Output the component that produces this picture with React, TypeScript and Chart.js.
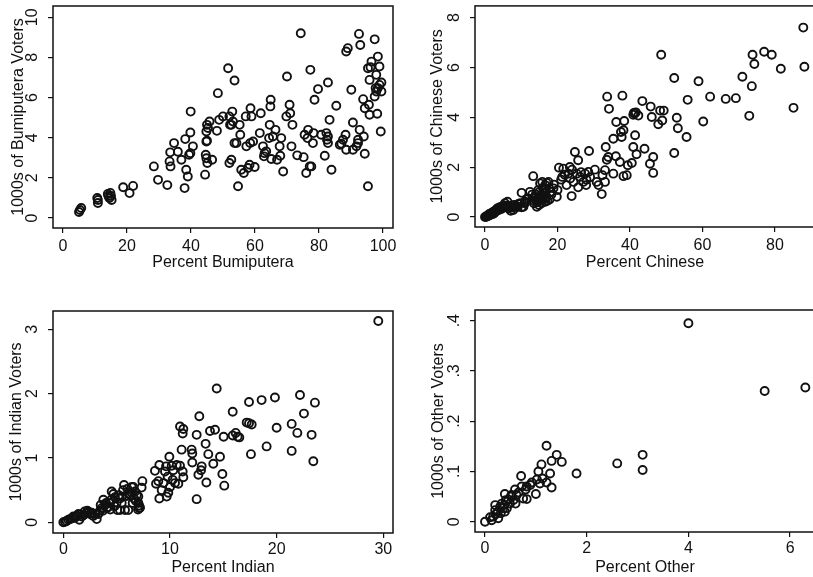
import React, { useEffect, useRef } from "react";
import { Chart, registerables } from "chart.js";
Chart.register(...registerables);

const FONT = "'Liberation Sans', Arial, Helvetica, sans-serif";
const INK = "#111111";

// ---------------- Data ----------------
const bumiPct = [5.0,5.3,5.7,10.9,10.9,10.7,14.0,14.5,14.2,15.2,14.8,15.0,18.8,20.8,21.9,28.4,29.7,32.6,33.3,33.6,33.5,34.7,35.9,37.0,38.2,38.0,38.5,39.0,39.4,39.8,39.9,39.8,40.6,44.4,44.6,44.8,44.8,45.0,44.8,45.3,45.0,45.8,45.1,46.6,48.1,48.4,48.8,50.0,51.6,52.0,52.6,52.0,52.6,52.2,52.9,53.1,53.6,53.6,54.2,54.7,55.2,55.4,55.7,56.5,57.1,57.3,57.8,58.3,58.5,58.6,58.9,59.9,59.4,61.5,61.8,62.5,62.8,63.0,63.5,64.4,64.6,65.1,64.8,64.9,65.6,66.4,66.9,67.7,67.9,68.2,68.8,70.0,69.8,70.8,71.0,71.4,71.7,73.2,74.3,75.2,75.5,76.0,76.4,76.6,77.1,77.6,77.3,78.1,78.3,78.6,79.7,80.7,81.8,82.5,82.8,82.8,82.3,82.8,83.3,83.9,85.4,86.5,87.0,87.5,88.3,88.5,88.5,89.0,90.1,90.6,90.6,91.7,92.2,92.2,92.5,92.9,92.7,94.0,93.8,94.3,94.3,95.3,95.6,95.8,95.8,95.3,96.4,96.1,97.4,97.4,97.9,97.7,97.9,98.2,98.4,98.4,98.9,98.9,99.5,99.5,99.3];
const bumiVoters = [0.3,0.4,0.5,0.9,0.75,1.0,1.2,1.0,1.1,0.9,1.25,1.1,1.53,1.24,1.6,2.57,1.9,1.64,2.82,2.57,3.27,3.73,3.3,2.9,3.93,1.49,2.4,2.07,3.15,3.23,5.3,4.26,3.57,2.16,3.15,2.98,3.81,3.85,4.31,4.48,4.64,4.81,2.74,2.9,4.34,6.22,4.89,5.06,7.46,2.74,2.9,5.06,4.64,4.64,5.3,4.81,6.85,3.73,3.73,1.58,4.64,4.15,2.4,2.24,5.06,3.57,2.49,2.65,3.73,5.47,5.06,2.54,3.81,4.23,5.22,3.57,3.07,3.23,3.32,3.98,4.64,2.94,5.56,5.89,4.06,4.39,2.9,3.57,3.1,3.98,2.32,7.05,5.06,5.64,5.22,3.57,4.64,3.12,9.2,3.03,4.15,2.24,3.98,4.39,2.57,2.57,7.38,3.73,4.23,5.89,6.42,4.15,3.1,3.9,3.73,4.06,4.23,6.75,4.89,2.4,5.59,3.65,3.7,3.9,4.15,3.4,8.29,8.46,6.39,4.76,3.4,3.57,3.73,3.9,9.17,8.62,4.39,4.06,5.92,3.2,5.47,1.58,5.64,5.14,6.88,7.46,7.79,7.51,8.9,6.05,6.3,6.47,7.13,5.19,8.04,6.47,6.63,7.55,6.75,6.3,4.31];

const chinesePct = [0,0.3,0.55,0.9,1.4,1.7,2.0,2.3,2.8,3.2,3.5,3.9,4.1,4.6,5.1,5.5,6.0,6.4,6.9,7.1,7.8,8.3,8.7,9.2,9.7,10.1,10.6,11.0,11.5,1.0,1.5,2.5,3.0,3.8,4.5,5.0,6.5,7.5,8.0,9.0,0.5,1.2,2.2,5.5,6.2,10.1,12.4,13.3,12.9,13.3,13.8,14.3,14.7,15.2,15.6,16.1,16.6,17.0,14.3,14.9,15.6,16.6,14.7,15.2,15.8,16.6,17.0,17.5,17.7,18.2,18.9,19.8,20.0,13.5,14.0,14.5,15.0,15.5,16.0,16.5,17.2,17.8,18.3,15.0,16.0,13.0,12.0,11.0,20.4,21.6,21.3,22.5,23.0,23.4,23.9,24.4,24.8,25.3,25.7,25.7,26.2,27.1,27.6,27.9,28.5,28.7,22.0,23.5,24.0,26.5,28.0,29.0,21.0,19.0,30.3,30.8,31.3,32.2,32.4,33.1,33.1,33.3,33.6,33.7,34.0,34.2,35.4,35.4,36.1,36.2,37.2,37.5,37.7,37.9,38.2,38.2,38.4,39.1,39.4,40.5,40.9,41.4,40.9,41.3,41.6,41.1,42.3,41.8,43.4,44.0,45.5,45.7,46.0,46.4,46.4,47.8,48.3,49.3,48.6,48.9,52.2,52.2,52.9,53.2,55.6,55.9,58.9,60.2,62.1,66.4,69.2,71.0,72.9,73.6,73.8,74.3,77.0,79.1,81.6,85.1,87.8,88.1];
const chineseVoters = [0,0.01,0.04,0.08,0.08,0.15,0.17,0.21,0.25,0.31,0.35,0.35,0.39,0.41,0.45,0.41,0.44,0.35,0.39,0.25,0.28,0.41,0.44,0.52,0.55,0.39,0.41,0.61,0.71,0.05,0.1,0.15,0.22,0.28,0.32,0.38,0.45,0.38,0.48,0.4,0.02,0.12,0.12,0.55,0.61,0.97,1.01,1.64,0.68,0.75,0.81,0.68,0.75,0.81,0.88,0.81,0.75,0.81,0.41,0.48,0.55,0.61,1.08,1.35,1.41,1.28,1.37,1.41,1.15,1.01,1.15,0.81,1.08,0.55,0.9,0.6,0.65,0.7,0.95,1.0,0.65,0.7,0.9,1.0,1.15,0.9,0.75,0.55,1.98,1.94,1.61,1.28,1.74,2.01,0.84,1.41,2.61,1.74,2.28,1.19,1.61,1.41,1.74,1.28,1.81,2.65,1.7,1.55,1.9,1.8,1.5,1.6,1.5,1.3,1.9,1.41,1.28,0.92,1.68,1.88,1.41,2.81,2.3,4.83,2.41,4.34,1.74,3.14,2.44,3.81,2.21,3.41,3.21,4.87,1.64,3.48,3.85,1.68,2.08,2.17,2.81,3.28,4.1,4.15,4.2,4.18,4.07,2.52,4.65,2.74,2.14,4.43,4.01,2.41,1.77,3.72,4.27,4.27,6.51,3.87,2.57,5.58,3.98,3.56,3.21,4.7,5.45,3.83,4.83,4.74,4.77,5.63,4.06,5.25,6.51,6.14,6.63,6.51,5.95,4.38,7.6,6.03];

const indianPct = [0,0.16,0.31,0.47,0.63,0.78,0.94,1.09,1.25,1.41,1.5,1.72,1.88,2.13,2.25,2.5,2.66,2.97,3.13,3.28,3.44,3.59,3.75,3.91,4.06,4.22,4.38,4.53,4.69,4.84,5.0,5.06,5.31,5.47,5.78,5.69,5.94,6.09,6.41,6.56,6.63,6.72,6.88,7.03,7.03,7.13,7.19,7.34,7.41,6.09,6.41,5.31,1.0,1.6,2.0,2.4,2.8,3.5,4.0,4.4,4.8,5.2,5.6,6.0,6.3,6.8,7.0,7.1,3.7,4.5,5.5,6.5,8.59,8.69,8.91,9.0,9.0,9.22,9.38,9.53,9.63,9.69,9.78,9.84,9.94,10.0,10.16,10.25,10.31,10.47,10.63,10.78,10.94,10.94,11.09,11.19,11.25,11.19,11.25,12.03,12.09,12.09,12.5,12.5,12.66,12.75,12.91,12.97,13.34,13.41,13.59,13.75,14.06,14.22,14.38,14.69,14.91,15.03,15.09,15.88,15.88,16.16,16.34,16.5,17.19,17.41,17.41,17.66,17.59,18.59,19.06,19.84,20.0,21.41,21.41,21.94,22.19,22.56,23.28,23.44,23.59,29.53];
const indianVoters = [0,0.01,0.02,0.04,0.05,0.06,0.09,0.07,0.1,0.13,0.04,0.09,0.11,0.14,0.18,0.13,0.15,0.13,0.05,0.13,0.18,0.22,0.35,0.27,0.22,0.24,0.3,0.48,0.44,0.39,0.31,0.19,0.37,0.3,0.19,0.58,0.41,0.45,0.46,0.55,0.37,0.48,0.42,0.4,0.3,0.22,0.23,0.54,0.64,0.19,0.55,0.19,0.08,0.12,0.17,0.16,0.1,0.27,0.3,0.2,0.25,0.42,0.5,0.52,0.42,0.33,0.2,0.26,0.18,0.35,0.4,0.3,0.8,0.6,0.64,0.89,0.37,0.5,0.61,0.79,0.87,0.4,0.71,0.46,1.02,0.55,0.88,0.66,0.81,0.61,0.89,0.6,1.49,0.88,1.13,1.38,1.45,0.79,0.7,1.13,1.07,0.93,0.36,1.36,0.74,1.65,0.81,0.87,1.22,0.62,1.06,1.42,0.91,1.44,2.08,1.02,0.75,1.33,0.57,1.72,1.35,1.39,1.33,1.32,1.55,1.87,1.54,1.52,1.06,1.9,1.18,1.94,1.47,1.11,1.53,1.39,1.98,1.69,1.36,0.95,1.86,3.13];

const otherPct = [0,0.1,0.13,0.16,0.2,0.2,0.21,0.25,0.26,0.3,0.31,0.33,0.36,0.38,0.39,0.39,0.41,0.43,0.46,0.49,0.51,0.52,0.56,0.59,0.6,0.62,0.66,0.71,0.72,0.75,0.8,0.82,0.82,0.89,0.92,1.0,1.02,1.05,1.08,1.11,1.13,1.21,1.21,1.28,1.31,1.31,1.41,1.51,1.8,2.6,3.1,3.1,4.0,5.5,6.3];
const otherVoters = [0,0.009,0.003,0.01,0.023,0.033,0.015,0.02,0.007,0.03,0.017,0.036,0.027,0.033,0.055,0.02,0.043,0.027,0.044,0.036,0.05,0.053,0.043,0.064,0.036,0.053,0.058,0.091,0.07,0.046,0.064,0.07,0.045,0.073,0.078,0.055,0.084,0.1,0.076,0.114,0.086,0.151,0.078,0.096,0.121,0.068,0.133,0.119,0.096,0.116,0.133,0.103,0.395,0.26,0.267];

const bumiXTicks = [0, 20, 40, 60, 80, 100];
const bumiYTicks = [0, 2, 4, 6, 8, 10];
const bumiYLabels = ["0", "2", "4", "6", "8", "10"];
const chineseXTicks = [0, 20, 40, 60, 80];
const chineseYTicks = [0, 2, 4, 6, 8];
const chineseYLabels = ["0", "2", "4", "6", "8"];
const indianXTicks = [0, 10, 20, 30];
const indianYTicks = [0, 1, 2, 3];
const indianYLabels = ["0", "1", "2", "3"];
const otherXTicks = [0, 2, 4, 6];
const otherYTicks = [0, 0.1, 0.2, 0.3, 0.4];
const otherYLabels = ["0", ".1", ".2", ".3", ".4"];

// ---------------- Layout ----------------
type PanelCfg = {
  left: number; top: number; w: number; h: number;
  box: { l: number; t: number; r: number; b: number };
  xs: number[]; ys: number[];
  xTicks: number[]; yTicks: number[]; yLabels: string[];
  xRange: [number, number]; yRange: [number, number];
  xTitle: string; yTitle: string;
  xTitlePad: number; yTitlePad: number; xTickPad: number;
};

const panels: PanelCfg[] = [
  {
    left: 0, top: 0, w: 406, h: 290, box: { l: 53, t: 6, r: 393, b: 228 },
    xs: bumiPct, ys: bumiVoters, xTicks: bumiXTicks, yTicks: bumiYTicks, yLabels: bumiYLabels,
    xRange: [-3.125, 103.125], yRange: [-0.498, 10.56],
    xTitle: "Percent Bumiputera", yTitle: "1000s of Bumiputera Voters", xTitlePad: 18, yTitlePad: 9, xTickPad: 4,
  },
  {
    left: 406, top: 0, w: 420, h: 290, box: { l: 475, t: 5, r: 815, b: 227 },
    xs: chinesePct, ys: chineseVoters, xTicks: chineseXTicks, yTicks: chineseYTicks, yLabels: chineseYLabels,
    xRange: [-2.76, 91.03], yRange: [-0.4, 8.47],
    xTitle: "Percent Chinese", yTitle: "1000s of Chinese Voters", xTitlePad: 18, yTitlePad: 22, xTickPad: 4,
  },
  {
    left: 0, top: 290, w: 406, h: 287, box: { l: 53, t: 311, r: 393, b: 533 },
    xs: indianPct, ys: indianVoters, xTicks: indianXTicks, yTicks: indianYTicks, yLabels: indianYLabels,
    xRange: [-0.97, 30.91], yRange: [-0.166, 3.285],
    xTitle: "Percent Indian", yTitle: "1000s of Indian Voters", xTitlePad: 0, yTitlePad: 7, xTickPad: 2,
  },
  {
    left: 406, top: 290, w: 420, h: 287, box: { l: 475, t: 310, r: 815, b: 532 },
    xs: otherPct, ys: otherVoters, xTicks: otherXTicks, yTicks: otherYTicks, yLabels: otherYLabels,
    xRange: [-0.197, 6.49], yRange: [-0.0205, 0.4213],
    xTitle: "Percent Other", yTitle: "1000s of Other Voters", xTitlePad: 0, yTitlePad: 23, xTickPad: 2,
  },
];

const stataPlugin = {
  id: "stataFrame",
  afterDraw(chart: any, _args: any, opts: any) {
    const { ctx, chartArea } = chart;
    const { left, top, right, bottom } = chartArea;
    ctx.save();
    ctx.strokeStyle = INK;
    ctx.lineWidth = 1.5;
    ctx.strokeRect(left, top, right - left, bottom - top);
    const ys = chart.scales.y;
    ctx.font = `16px ${FONT}`;
    ctx.fillStyle = INK;
    ctx.textAlign = "center";
    ctx.textBaseline = "middle";
    (opts.values as number[]).forEach((v, i) => {
      const py = ys.getPixelForValue(v);
      ctx.save();
      ctx.translate(left - 20, py);
      ctx.rotate(-Math.PI / 2);
      ctx.fillText(opts.labels[i], 0, 0);
      ctx.restore();
    });
    ctx.restore();
  },
};

function Panel({ cfg }: { cfg: PanelCfg }) {
  const ref = useRef<HTMLCanvasElement>(null);
  useEffect(() => {
    const yAxisW = cfg.box.l - cfg.left;
    const xAxisH = cfg.top + cfg.h - cfg.box.b;
    const chart = new Chart(ref.current!, {
      type: "scatter",
      data: {
        datasets: [
          {
            data: cfg.xs.map((x, i) => ({ x, y: cfg.ys[i] })),
            pointStyle: "circle",
            pointRadius: 4,
            pointHoverRadius: 4,
            borderWidth: 1.9,
            borderColor: INK,
            backgroundColor: "rgba(0,0,0,0)",
            clip: false as any,
          },
        ],
      },
      options: {
        responsive: false,
        animation: false,
        events: [],
        layout: {
          padding: { left: 0, top: cfg.box.t - cfg.top, right: cfg.left + cfg.w - cfg.box.r, bottom: 0 },
        },
        plugins: {
          legend: { display: false },
          tooltip: { enabled: false },
          stataFrame: { values: cfg.yTicks, labels: cfg.yLabels },
        } as any,
        scales: {
          x: {
            type: "linear",
            min: cfg.xRange[0],
            max: cfg.xRange[1],
            afterBuildTicks: (s: any) => { s.ticks = cfg.xTicks.map((v) => ({ value: v })); },
            afterFit: (s: any) => { s.height = xAxisH; },
            grid: { display: true, drawOnChartArea: false, drawTicks: true, tickLength: 5, color: INK, lineWidth: 1.2 },
            border: { display: false },
            ticks: {
              padding: cfg.xTickPad,
              color: INK,
              font: { family: FONT, size: 16 },
              maxRotation: 0,
              autoSkip: false,
              callback: (_v: any, i: number) => String(cfg.xTicks[i]),
            },
            title: {
              display: true, text: cfg.xTitle, color: INK,
              font: { family: FONT, size: 16 },
              padding: { top: 0, bottom: cfg.xTitlePad },
            },
          },
          y: {
            type: "linear",
            min: cfg.yRange[0],
            max: cfg.yRange[1],
            afterBuildTicks: (s: any) => { s.ticks = cfg.yTicks.map((v) => ({ value: v })); },
            afterFit: (s: any) => { s.width = yAxisW; },
            grid: { display: true, drawOnChartArea: false, drawTicks: true, tickLength: 5, color: INK, lineWidth: 1.2 },
            border: { display: false },
            ticks: { display: false },
            title: {
              display: true, text: cfg.yTitle, color: INK,
              font: { family: FONT, size: 16 },
              padding: { top: cfg.yTitlePad, bottom: 0 },
            },
          },
        },
      } as any,
      plugins: [stataPlugin as any],
    });
    return () => chart.destroy();
  }, [cfg]);
  return (
    <canvas
      ref={ref}
      width={cfg.w}
      height={cfg.h}
      style={{ position: "absolute", left: cfg.left, top: cfg.top, width: cfg.w, height: cfg.h }}
    />
  );
}

export default function App() {
  return (
    <div
      style={{
        position: "fixed", left: 0, top: 0, width: 813, height: 577,
        overflow: "hidden", background: "#ffffff",
      }}
    >
      {panels.map((p, i) => (
        <Panel key={i} cfg={p} />
      ))}
    </div>
  );
}
